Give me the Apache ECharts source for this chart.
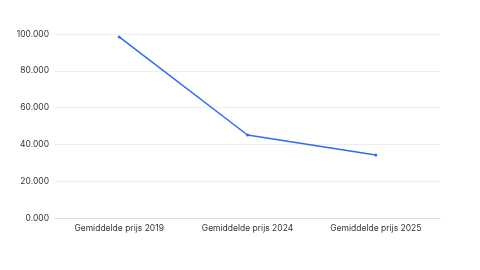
<!DOCTYPE html>
<html>
<head>
<meta charset="utf-8">
<script src="https://cdn.jsdelivr.net/npm/echarts@6/dist/echarts.min.js"></script>
<style>html,body{margin:0;padding:0;background:#fff}#c{width:480px;height:270px}</style>
</head>
<body>
<div id="c"></div>
<script>
const categories = ['Gemiddelde prijs 2019', 'Gemiddelde prijs 2024', 'Gemiddelde prijs 2025'];
const prices = [98.4, 45.1, 34.3];
const yTicks = [0, 20, 40, 60, 80, 100];

const chart = echarts.init(document.getElementById('c'), null, {renderer: 'canvas'});
chart.setOption({
  animation: false,
  grid: {left: 55, right: 40, top: 34, bottom: 52},
  xAxis: {
    type: 'category',
    data: categories,
    boundaryGap: true,
    axisLine: {lineStyle: {color: '#dddddd', width: 1}},
    axisTick: {show: false},
    axisLabel: {color: '#333', fontSize: 8.5, fontFamily: 'Inter', margin: 6}
  },
  yAxis: {
    type: 'value',
    min: yTicks[0],
    max: yTicks[yTicks.length - 1],
    interval: 20,
    axisLine: {show: false},
    axisTick: {show: false},
    splitLine: {lineStyle: {color: '#eeeeee', width: 1}},
    axisLabel: {color: '#333', fontSize: 8.5, fontFamily: 'Inter', margin: 6,
      formatter: v => v.toFixed(3)}
  },
  series: [{
    type: 'line',
    data: prices,
    symbol: 'circle',
    symbolSize: 3,
    lineStyle: {color: '#2a6cf6', width: 1.5},
    itemStyle: {color: '#2a6cf6'}
  }]
});
</script>
</body>
</html>
